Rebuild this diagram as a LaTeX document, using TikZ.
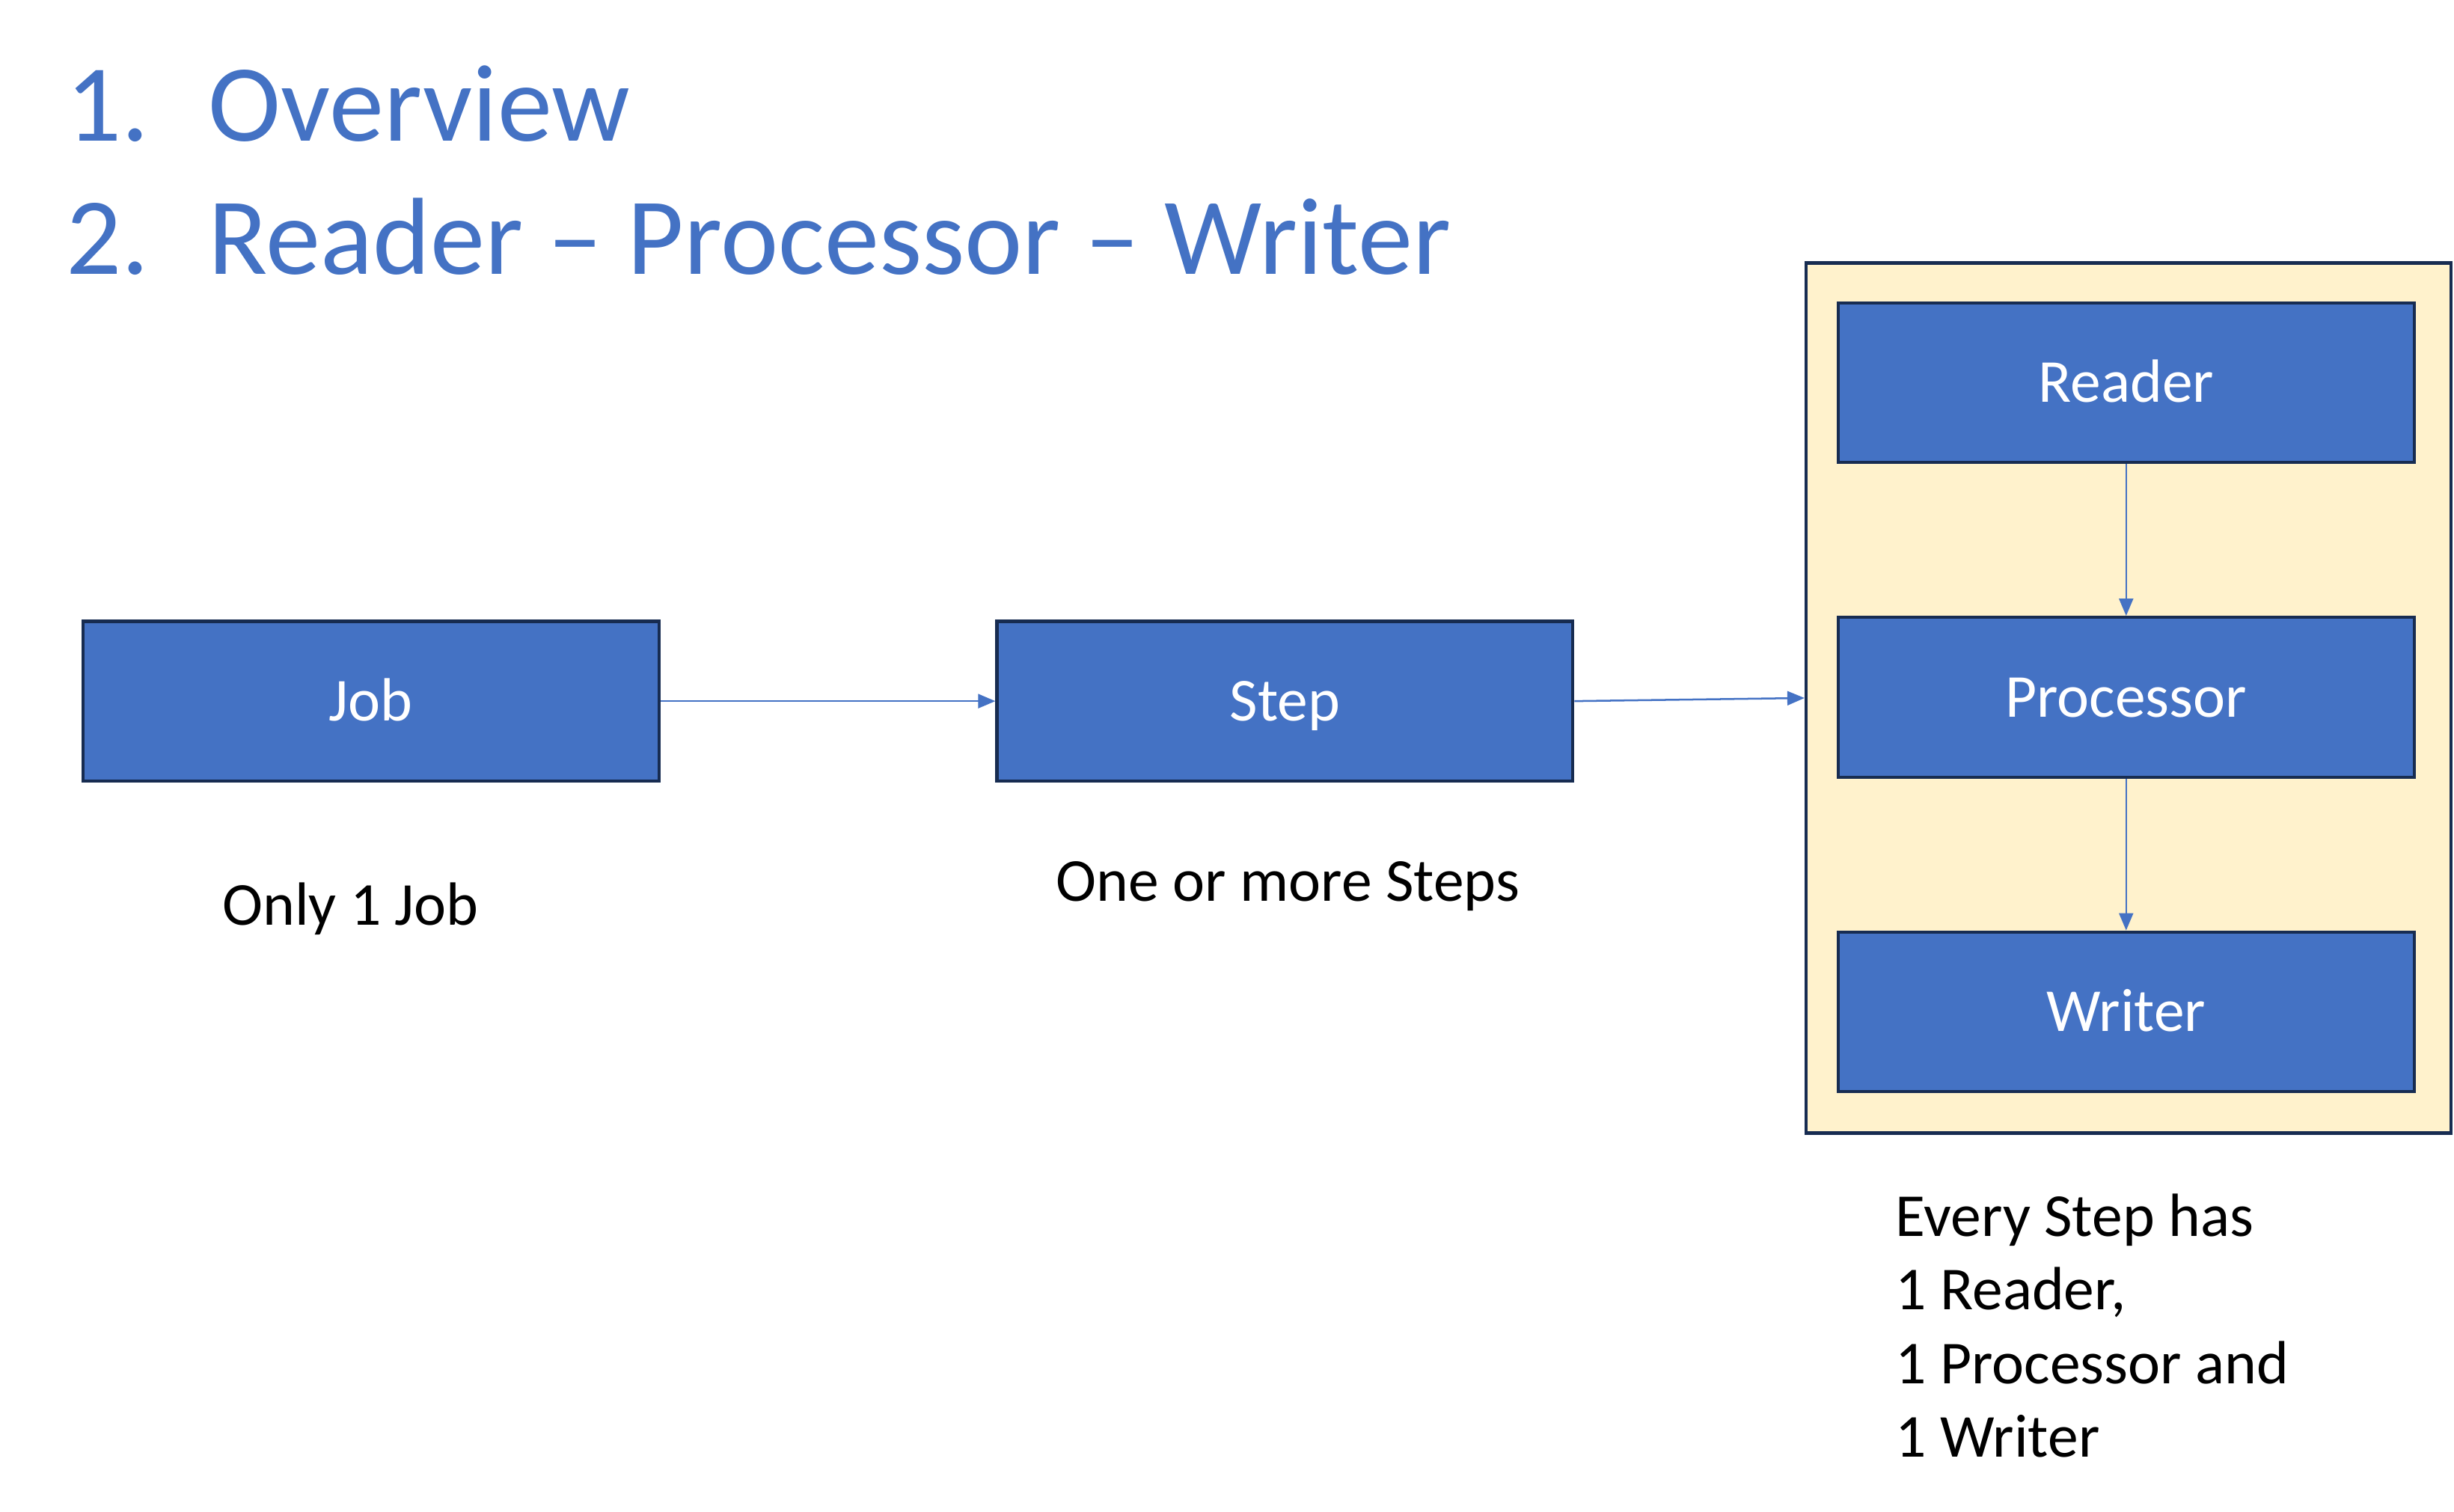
\documentclass[tikz,border=0pt]{standalone}
\usepackage{fontspec}
\setmainfont{Carlito}
\usepackage{tikz}
\usetikzlibrary{arrows.meta,positioning}

\definecolor{boxblue}{HTML}{4472C4}
\definecolor{boxnavy}{HTML}{172C51}
\definecolor{cream}{HTML}{FFF2CC}

\begin{document}
\begin{tikzpicture}[x=1pt,y=-1pt,
stage/.style={rectangle,draw=boxnavy,line width=2pt,fill=boxblue,text=white,inner sep=0pt,
  minimum width=368pt,minimum height=102pt,font=\fontsize{39}{47}\selectfont,text height=25pt,text depth=0pt},
frame/.style={rectangle,draw=boxnavy,line width=2pt,fill=cream,inner sep=0pt,
  minimum width=412pt,minimum height=556pt},
caption/.style={inner sep=0pt,font=\fontsize{39}{47}\selectfont},
heading/.style={anchor=base west,inner sep=0pt,text=boxblue,font=\fontsize{70}{80}\selectfont},
flow/.style={-{Triangle[length=11pt,width=9pt]},draw=boxblue,fill=boxblue,line width=1.2pt}
]
\useasboundingbox (0,0) rectangle (1568,966);

%% Titel %%%%%%%%%%%%%%%%%%%%%%%%%%%%%%%%%%%%%%%%%%%%%%%%%%%%%%%%%%%%%%%%%%%%%%%%%
\node [heading] (T1) at (42,90)  {\makebox[91pt][l]{1.}Overview};
\node [heading] (T2) at (42,175) {\makebox[91pt][l]{2.}Reader -- Processor -- Writer};

%% Nodes   %%%%%%%%%%%%%%%%%%%%%%%%%%%%%%%%%%%%%%%%%%%%%%%%%%%%%%%%%%%%%%%%%%%%%%%%
\node [frame] (FRAME) at (1360,446) {};

\node [stage] (JOB)  at (237,448)           {Job};
\node [stage] (STEP) [right =214pt of JOB]  {Step};

%% Reader, Processor, Writer
\node [stage] (READ)  at (1358.5,244.5)       {Reader};
\node [stage] (PROC)  [below =97pt of READ]  {Processor};
\node [stage] (WRITE) [below =97pt of PROC]  {Writer};

%% Beschriftung
\node [caption,anchor=base] (CJOB)  at (224,591)  {Only 1 Job};
\node [caption,anchor=base] (CSTEP) at (823,576)  {One or more Steps};
\node [caption,anchor=base west,align=left] (CFRAME) at (1211,931)
  {Every Step has\\1 Reader,\\1 Processor and\\1 Writer};

%% Pfade %%%%%%%%%%%%%%%%%%%%%%%%%%%%%%%%%%%%%%%%%%%%%%%%%%%%%%%%%%%%%%%%%%%%%%%%%
\draw [flow] (JOB)  to (STEP);
\draw [flow] (STEP.east) to (FRAME.west);
\draw [flow] (READ) to (PROC);
\draw [flow] (PROC) to (WRITE);

\end{tikzpicture}
\end{document}
